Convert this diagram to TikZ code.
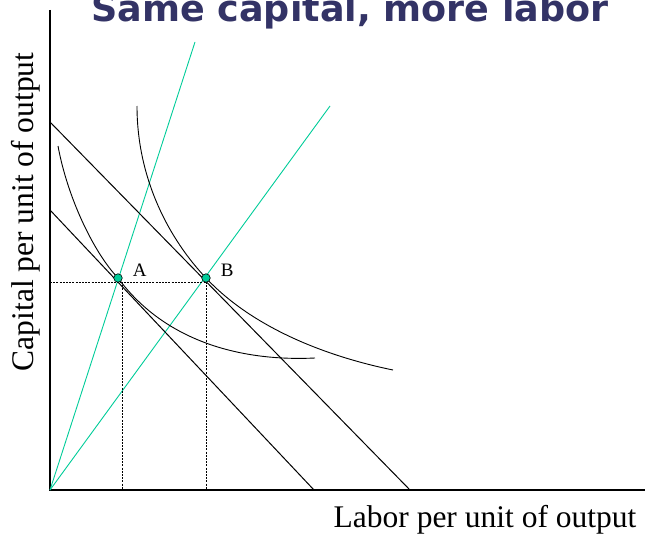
\documentclass[tikz,border=0pt]{standalone}
\usepackage{fontspec}
\setmainfont{Liberation Serif}
\newfontfamily\titlefont{DejaVu Sans}
\usepackage{tikz}
\usetikzlibrary{positioning}
\definecolor{titlenavy}{RGB}{51,51,102}
\definecolor{raygreen}{RGB}{0,204,153}

\tikzset{
  axisline/.style={line width=1.5pt},
  budget/.style={line width=1pt},
  isoquant/.style={line width=0.9pt},
  ray/.style={raygreen, line width=0.9pt},
  guide/.style={line width=0.7pt, dash pattern=on 2pt off 1.2pt},
  choice/.style={circle, draw, fill=raygreen, inner sep=0pt, minimum size=8.5pt, line width=0.6pt},
  pointlabel/.style={font=\fontsize{19}{22}\selectfont, inner sep=0pt},
  axislabel/.style={font=\fontsize{31.5}{36}\selectfont, inner sep=0pt}
}

\begin{document}
\begin{tikzpicture}[x=1pt,y=-1pt]
  \useasboundingbox (0,0) rectangle (645,535);

  \node[
    font=\titlefont\bfseries\fontsize{36.5}{40}\selectfont,
    text=titlenavy,
    anchor=base,
    inner sep=0pt
  ] (title) at (350,22) {Same capital, more labor};

  % axes
  \coordinate (O) at (50,490);
  \coordinate (ytop) at (50,10);
  \coordinate (xend) at (645,490);
  \draw[axisline] (ytop) -- (O) -- (xend);

  % rays through the two choices
  \coordinate (rayA) at (195,42);
  \coordinate (rayB) at (330,106);
  \draw[ray] (O) -- (rayA);
  \draw[ray] (O) -- (rayB);

  % isocost lines
  \coordinate (costAk) at (50,210);
  \coordinate (costAl) at (314,490);
  \coordinate (costBk) at (50,122);
  \coordinate (costBl) at (410,490);
  \draw[budget] (costAk) -- (costAl);
  \draw[budget] (costBk) -- (costBl);

  % dashed guides
  \coordinate (guideK) at (50,282);
  \coordinate (guideA) at (122,282);
  \coordinate (guideB) at (206,282);
  \coordinate (footA) at (122,490);
  \coordinate (footB) at (206,490);
  \draw[guide] (guideK) -- (guideB);
  \draw[guide] (guideA) -- (footA);
  \draw[guide] (guideB) -- (footB);

  % isoquants
  \coordinate (isoAs) at (58,146);
  \coordinate (isoAe) at (315,358);
  \coordinate (isoBs) at (137,106);
  \coordinate (isoBe) at (393,370);
  \coordinate (tanA) at (118,278);
  \coordinate (tanB) at (206,278);
  \draw[isoquant] (isoAs) .. controls (68,200) and (95,254) .. (tanA)
    .. controls (160,335) and (230,362) .. (isoAe);
  \draw[isoquant] (isoBs) .. controls (137,180) and (170,240) .. (tanB)
    .. controls (250,325) and (320,355) .. (isoBe);

  % choices
  \node[choice] (A) at (tanA) {};
  \node[choice] (B) at (tanB) {};
  \node[pointlabel, right=10pt of A, yshift=8pt] (labA) {A};
  \node[pointlabel, right=10pt of B, yshift=8pt] (labB) {B};

  % axis labels
  \node[axislabel, rotate=90, anchor=base] (ylab) at (33,212) {Capital per unit of output};
  \node[axislabel, anchor=base] (xlab) at (485,527) {Labor per unit of output};
\end{tikzpicture}
\end{document}
